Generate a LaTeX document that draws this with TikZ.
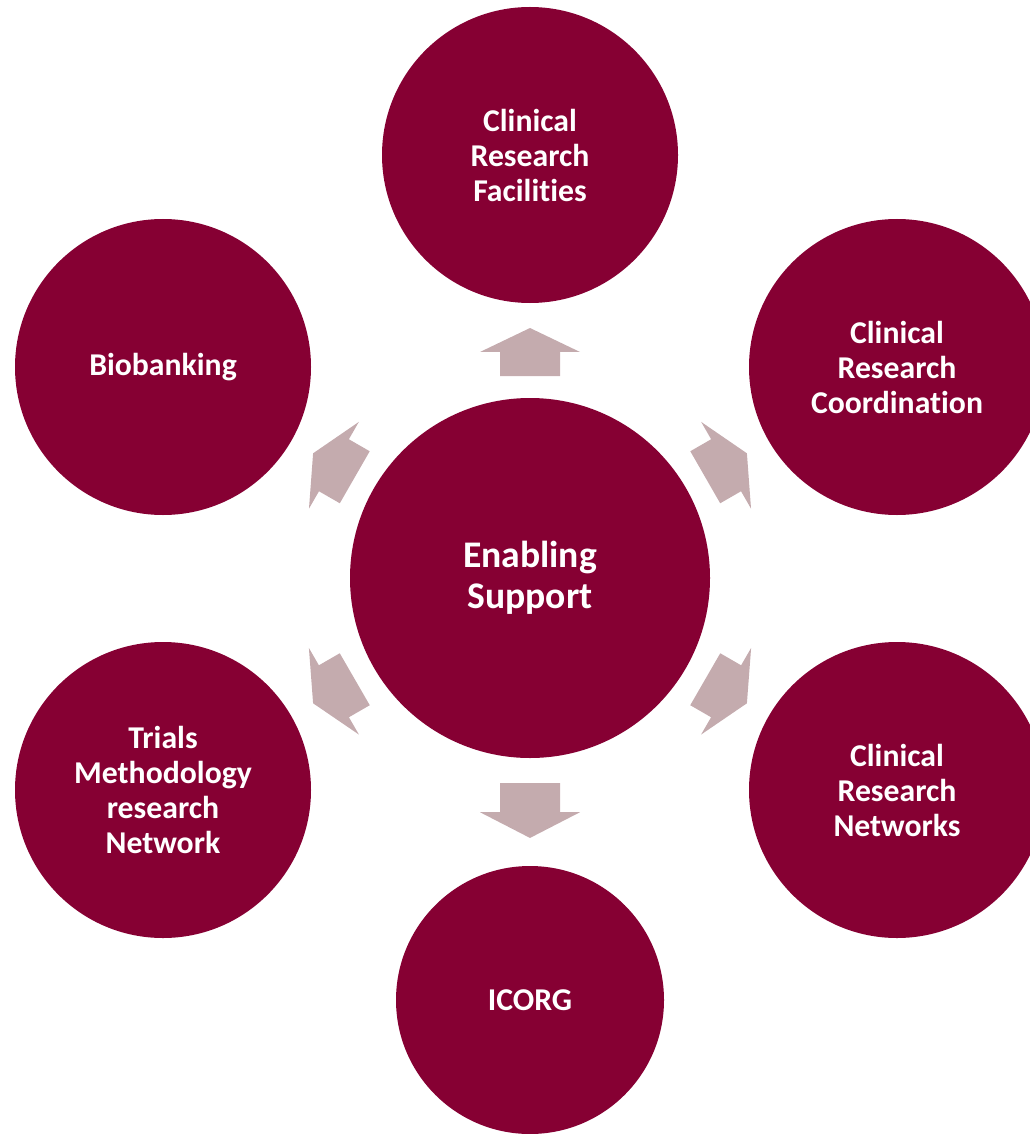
\documentclass[tikz,border=0pt]{standalone}
\usepackage{fontspec}
\setmainfont[Ligatures=NoCommon]{Carlito}
\usepackage{xcolor}
\usetikzlibrary{calc}
\definecolor{hubmaroon}{HTML}{860033}
\definecolor{arrowrose}{HTML}{C4ABAE}

\begin{document}
\begin{tikzpicture}[x=0.75pt,y=-0.75pt,
  hub/.style={circle, fill=hubmaroon, draw=none, minimum size=270pt, inner sep=0pt, text=white, align=center, font=\bfseries\fontsize{28.2}{30.75}\selectfont},
  spoke/.style={circle, fill=hubmaroon, draw=none, minimum size=222pt, inner sep=0pt, text=white, align=center, font=\bfseries\fontsize{23.8}{26.25}\selectfont},
  small spoke/.style={spoke, minimum size=201pt},
  blockarrow/.style={fill=arrowrose, draw=none}]
\useasboundingbox (0,0) rectangle (1030,1134);
% circles
\node[hub] (es) at (530,578) {Enabling\\Support};
\node[spoke] (crf) at (530,155) {Clinical\\Research\\Facilities};
\node[spoke] (crc) at (897,367) {Clinical\\Research\\Coordination};
\node[spoke] (crn) at (897,790) {Clinical\\Research\\Networks};
\node[small spoke] (icorg) at (530,1000) {ICORG};
\node[spoke] (tmrn) at (163,790) {Trials\\Methodology\\research\\Network};
\node[spoke] (bio) at (163,367) {Biobanking};
% block arrows from the hub
\foreach \dest/\s/\h/\t in {crf/0.4775/0.5343/0.591, crc/0.4775/0.5343/0.591,
    crn/0.4775/0.5343/0.591, icorg/0.486/0.555/0.616,
    tmrn/0.4775/0.5343/0.591, bio/0.4775/0.5343/0.591} {
  \coordinate (b) at ($(es.center)!\s!(\dest.center)$);
  \coordinate (h) at ($(es.center)!\h!(\dest.center)$);
  \coordinate (t) at ($(es.center)!\t!(\dest.center)$);
  \fill[blockarrow] ($(b)!22.5pt!90:(t)$) -- ($(h)!22.5pt!90:(t)$)
    -- ($(h)!37.5pt!90:(t)$) -- (t) -- ($(h)!37.5pt!-90:(t)$)
    -- ($(h)!22.5pt!-90:(t)$) -- ($(b)!22.5pt!-90:(t)$) -- cycle;
}
\end{tikzpicture}
\end{document}
